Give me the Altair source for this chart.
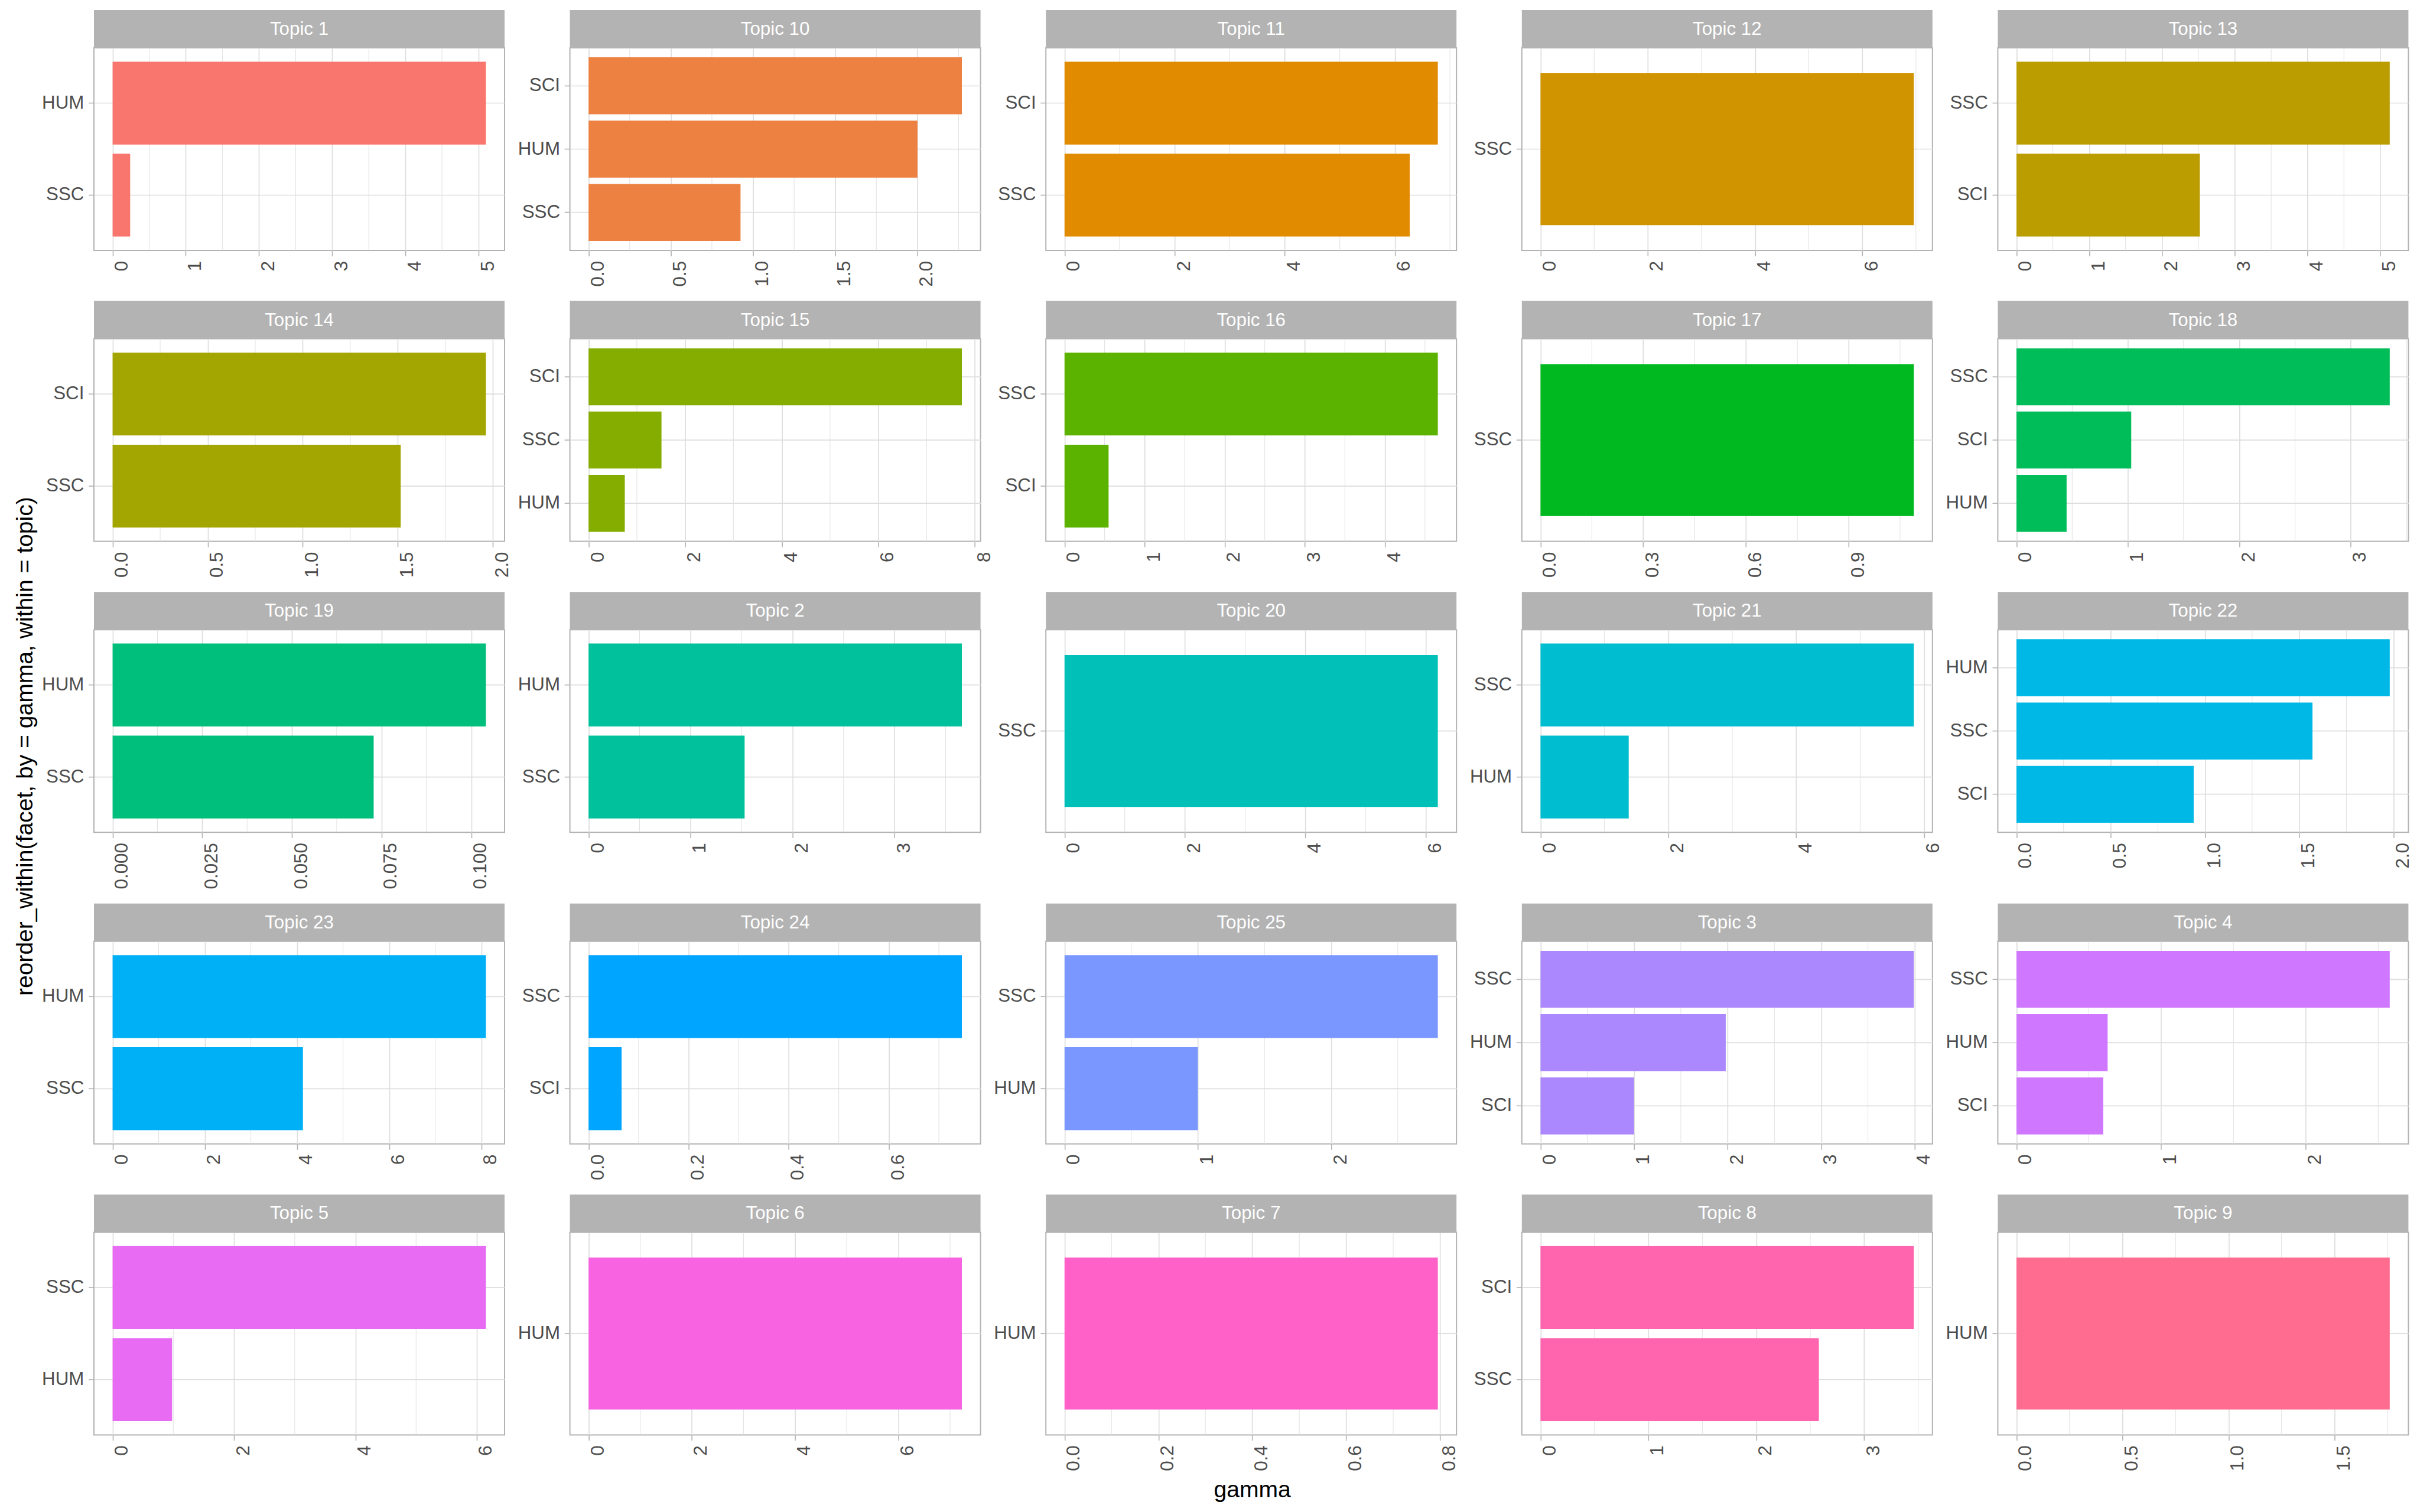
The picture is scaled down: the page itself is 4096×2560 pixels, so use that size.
import math
import altair as alt
import pandas as pd

# ---------------- data ----------------
TOPICS = ["Topic 1", "Topic 10", "Topic 11", "Topic 12", "Topic 13",
          "Topic 14", "Topic 15", "Topic 16", "Topic 17", "Topic 18",
          "Topic 19", "Topic 2", "Topic 20", "Topic 21", "Topic 22",
          "Topic 23", "Topic 24", "Topic 25", "Topic 3", "Topic 4",
          "Topic 5", "Topic 6", "Topic 7", "Topic 8", "Topic 9"]

BAR_TOPIC = ["Topic 1", "Topic 1",
             "Topic 10", "Topic 10", "Topic 10",
             "Topic 11", "Topic 11",
             "Topic 12",
             "Topic 13", "Topic 13",
             "Topic 14", "Topic 14",
             "Topic 15", "Topic 15", "Topic 15",
             "Topic 16", "Topic 16",
             "Topic 17",
             "Topic 18", "Topic 18", "Topic 18",
             "Topic 19", "Topic 19",
             "Topic 2", "Topic 2",
             "Topic 20",
             "Topic 21", "Topic 21",
             "Topic 22", "Topic 22", "Topic 22",
             "Topic 23", "Topic 23",
             "Topic 24", "Topic 24",
             "Topic 25", "Topic 25",
             "Topic 3", "Topic 3", "Topic 3",
             "Topic 4", "Topic 4", "Topic 4",
             "Topic 5", "Topic 5",
             "Topic 6",
             "Topic 7",
             "Topic 8", "Topic 8",
             "Topic 9"]

BAR_FACET = ["HUM", "SSC",
             "SCI", "HUM", "SSC",
             "SCI", "SSC",
             "SSC",
             "SSC", "SCI",
             "SCI", "SSC",
             "SCI", "SSC", "HUM",
             "SSC", "SCI",
             "SSC",
             "SSC", "SCI", "HUM",
             "HUM", "SSC",
             "HUM", "SSC",
             "SSC",
             "SSC", "HUM",
             "HUM", "SSC", "SCI",
             "HUM", "SSC",
             "SSC", "SCI",
             "SSC", "HUM",
             "SSC", "HUM", "SCI",
             "SSC", "HUM", "SCI",
             "SSC", "HUM",
             "HUM",
             "HUM",
             "SCI", "SSC",
             "HUM"]

BAR_GAMMA = [5.10, 0.24,
             2.27, 2.00, 0.924,
             6.78, 6.27,
             6.96,
             5.13, 2.52,
             1.963, 1.515,
             7.73, 1.51, 0.75,
             4.66, 0.55,
             1.09,
             3.35, 1.03, 0.45,
             0.1041, 0.0728,
             3.66, 1.53,
             6.20,
             5.84, 1.38,
             1.98, 1.57, 0.94,
             8.10, 4.13,
             0.746, 0.066,
             2.80, 1.00,
             3.99, 1.98, 1.00,
             2.58, 0.63, 0.60,
             6.15, 0.98,
             7.23,
             0.795,
             3.46, 2.58,
             1.76]

# spacing of the labelled x ticks in each panel (same order as TOPICS)
TICK_STEP = [1, 0.5, 2, 2, 1,
             0.5, 2, 1, 0.3, 1,
             0.025, 1, 2, 2, 0.5,
             2, 0.2, 1, 1, 1,
             2, 2, 0.2, 1, 0.5]

Y_TITLE = "reorder_within(facet, by = gamma, within = topic)"
X_TITLE = "gamma"

# ---------------- styling ----------------
FONT = "Liberation Sans"
W = 695          # plot area width of one panel
H = 343          # plot area height of one panel
STRIP = 64       # strip height
FS = 31.3        # tick label / strip font size
TFS = 39.1       # axis title font size
GRID = "#DEDEDE"
BORDER = "#B3B3B3"
LABEL = "#4D4D4D"


def hcl_hex(h, c, l):
    # grDevices::hcl conversion (polar LUV -> sRGB)
    hr = math.radians(h)
    U, V = c * math.cos(hr), c * math.sin(hr)
    Y = 100.0 * (((l + 16) / 116) ** 3 if l > 7.999592 else l / 903.3)
    u = U / (13 * l) + 0.1978398
    v = V / (13 * l) + 0.4683363
    X = 9.0 * Y * u / (4 * v)
    Z = -X / 3 - 5 * Y + 3 * Y / v

    def g(t):
        t = 1.055 * t ** (1 / 2.4) - 0.055 if t > 0.00304 else 12.92 * t
        return min(1.0, max(0.0, t))
    r = g((3.240479 * X - 1.537150 * Y - 0.498535 * Z) / 100)
    gg = g((-0.969256 * X + 1.875992 * Y + 0.041556 * Z) / 100)
    b = g((0.055648 * X - 0.204043 * Y + 1.057311 * Z) / 100)
    return "#%02X%02X%02X" % tuple(int(255 * t + 0.5) for t in (r, gg, b))


n = len(TOPICS)
COLORS = [hcl_hex(15 + i * 360 / n, 100, 65) for i in range(n)]

df = pd.DataFrame({"topic": BAR_TOPIC, "facet": BAR_FACET, "gamma": BAR_GAMMA})


def decimals(step):
    s = ("%.6f" % step).rstrip("0").rstrip(".")
    return len(s.split(".")[1]) if "." in s else 0


def make_panel(i, topic):
    d = df[df.topic == topic].sort_values("gamma", ascending=False)
    step = TICK_STEP[i]
    vmax = d.gamma.max()
    lo, hi = -0.05 * vmax, 1.05 * vmax
    kmin = int(math.ceil(lo / step - 1e-9))
    kmax = int(math.floor(hi / step + 1e-9))
    majors = [round(k * step, 6) for k in range(kmin, kmax + 1)]
    minors = [round((k + 0.5) * step, 6) for k in range(kmin - 1, kmax + 1)
              if lo <= (k + 0.5) * step <= hi]
    fmt = ".%df" % decimals(step)
    order = d.facet.tolist()

    xs = alt.Scale(domain=[lo, hi], nice=False, zero=False)
    ys = alt.Scale(domain=order, paddingInner=0.1, paddingOuter=0.15)

    # one identical axis definition for every layer that uses the x scale,
    # so that the layers' axes merge into a single one
    x_axis = alt.Axis(orient="bottom", values=majors, format=fmt, title=None,
                      labelAngle=270, labelAlign="right",
                      labelBaseline="top", labelPadding=8,
                      labelFontSize=FS, labelColor=LABEL,
                      labelFont=FONT, labelOverlap=False, labelFlush=False,
                      tickSize=9.4, tickWidth=1.6, tickColor=BORDER,
                      grid=True, gridColor=GRID, gridWidth=1.7,
                      domain=False)

    minor = alt.Chart(pd.DataFrame({"gamma": minors})).mark_rule(
        color=GRID, strokeWidth=0.9
    ).encode(x=alt.X("gamma:Q", scale=xs, axis=x_axis))

    bars = alt.Chart(d).mark_bar(color=COLORS[i]).encode(
        x=alt.X("gamma:Q", scale=xs, axis=x_axis),
        y=alt.Y("facet:N", scale=ys, sort=None,
                axis=alt.Axis(orient="left", title=None, labelFontSize=FS,
                              labelColor=LABEL,
                              labelFont=FONT, labelPadding=7.7,
                              tickSize=9.4, tickWidth=1.6, tickColor=BORDER,
                              grid=True, gridColor=GRID, gridWidth=1.7,
                              bandPosition=0.5, domain=False,
                              minExtent=90, maxExtent=90)),
    )

    sdf = pd.DataFrame({"topic": [topic]})
    strip_bg = alt.Chart(sdf).mark_rect(color=BORDER).encode(
        x=alt.value(0), x2=alt.value(W), y=alt.value(-STRIP), y2=alt.value(0))
    strip_tx = alt.Chart(sdf).mark_text(
        color="white", fontSize=FS, font=FONT, align="center", baseline="middle"
    ).encode(x=alt.value(W / 2), y=alt.value(-STRIP / 2 + 1), text="topic:N")

    return alt.layer(minor, bars, strip_bg, strip_tx).properties(width=W, height=H)


panels = [make_panel(i, t) for i, t in enumerate(TOPICS)]
rows = [alt.hconcat(*panels[r * 5:(r + 1) * 5], spacing=110.6, bounds="flush")
        for r in range(5)]

inner = alt.vconcat(
    *rows, spacing=22.6,
    title=alt.TitleParams(Y_TITLE, orient="left", anchor="middle", fontSize=TFS,
                          font=FONT, fontWeight="normal", color="black",
                          baseline="alphabetic", offset=-26, dx=-10),
)

chart = alt.vconcat(
    inner,
    title=alt.TitleParams(X_TITLE, orient="bottom", anchor="middle", fontSize=TFS,
                          font=FONT, fontWeight="normal", color="black",
                          baseline="alphabetic", offset=44, dx=66),
).properties(
    padding={"left": 23, "top": 16, "right": 0, "bottom": 0},
    background="white",
).configure_view(stroke=BORDER, strokeWidth=2)

chart.save("out.html", embed_options={"renderer": "svg", "actions": False})
